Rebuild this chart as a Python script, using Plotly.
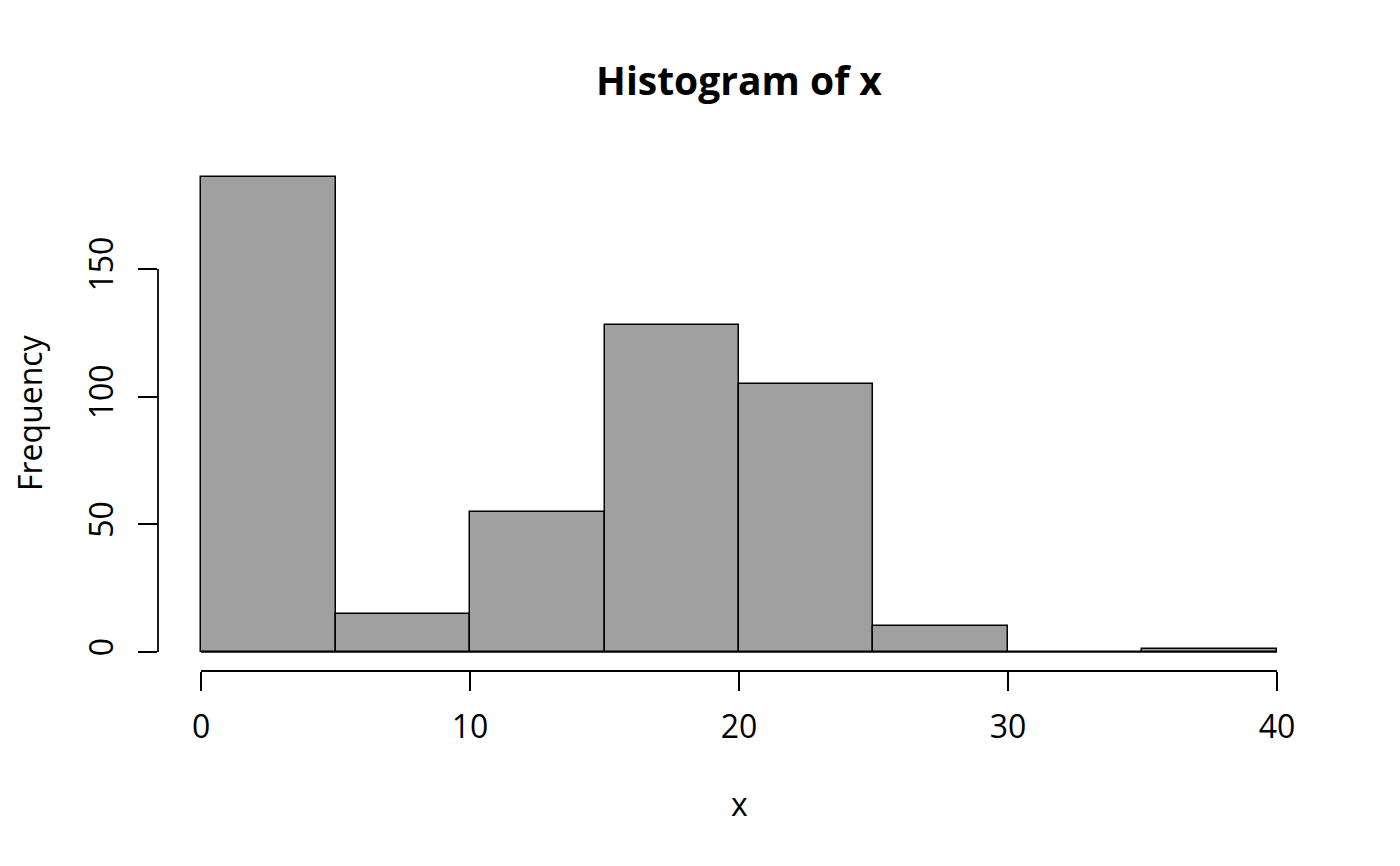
import plotly.graph_objects as go

# histogram bins (edges) and counts
bin_edges = [0, 5, 10, 15, 20, 25, 30, 35, 40]
counts = [186, 15, 55, 128, 105, 10, 0, 1]
x_ticks = [0, 10, 20, 30, 40]
y_ticks = [0, 50, 100, 150]

mids = [(a + b) / 2 for a, b in zip(bin_edges[:-1], bin_edges[1:])]
widths = [b - a for a, b in zip(bin_edges[:-1], bin_edges[1:])]

# R style: axes padded 4% beyond the data range
x_lo, x_hi = bin_edges[0], bin_edges[-1]
y_lo, y_hi = 0, max(counts)
xpad = 0.04 * (x_hi - x_lo)
ypad = 0.04 * (y_hi - y_lo)

font = "Open Sans, Noto Sans, DejaVu Sans, sans-serif"

fig = go.Figure()
fig.add_trace(go.Bar(
    x=mids, y=counts, width=widths,
    marker=dict(color="#a0a0a0", line=dict(color="black", width=1.5)),
    hoverinfo="x+y", showlegend=False,
))
# baseline so empty bins still show a line at zero
fig.add_trace(go.Scatter(
    x=[x_lo, x_hi], y=[0, 0], mode="lines",
    line=dict(color="black", width=1.5), hoverinfo="skip", showlegend=False,
))

# page has a small body margin, so the plot box is shifted up/left to compensate
fig.update_layout(
    width=1400, height=866,
    paper_bgcolor="white", plot_bgcolor="white",
    margin=dict(l=150, r=88, t=150, b=203),
    font=dict(family=font, size=32, color="black"),
    bargap=0,
    title=dict(text="<b>Histogram of x</b>", x=0.5, xref="paper",
               y=1 - 73 / 866, yanchor="middle", xanchor="center",
               font=dict(size=39, family=font)),
    xaxis=dict(range=[x_lo - xpad, x_hi + xpad], tickvals=x_ticks,
               ticks="outside", ticklen=19, tickwidth=1.8, tickcolor="black",
               showline=False, showgrid=False, zeroline=False,
               ticklabelstandoff=9),
    yaxis=dict(range=[y_lo - ypad, y_hi + ypad], tickvals=y_ticks,
               ticks="outside", ticklen=19, tickwidth=1.8, tickcolor="black",
               tickangle=-90, showline=False, showgrid=False, zeroline=False,
               ticklabelstandoff=12),
    shapes=[
        dict(type="line", xref="x", yref="paper", x0=x_ticks[0], x1=x_ticks[-1],
             y0=0, y1=0, line=dict(color="black", width=1.8)),
        dict(type="line", xref="paper", yref="y", x0=0, x1=0,
             y0=y_ticks[0], y1=y_ticks[-1], line=dict(color="black", width=1.8)),
    ],
    annotations=[
        dict(text="x", xref="paper", yref="paper", x=0.5, y=(866 - 802 - 196) / 513,
             yanchor="middle", xanchor="center", showarrow=False,
             font=dict(size=32, family=font)),
        dict(text="Frequency", xref="paper", yref="paper", x=(28 - 157) / 1162,
             y=(866 - 196 - 412) / 513, textangle=-90,
             yanchor="middle", xanchor="center", showarrow=False,
             font=dict(size=32, family=font)),
    ],
)

fig.write_html("out.html")
